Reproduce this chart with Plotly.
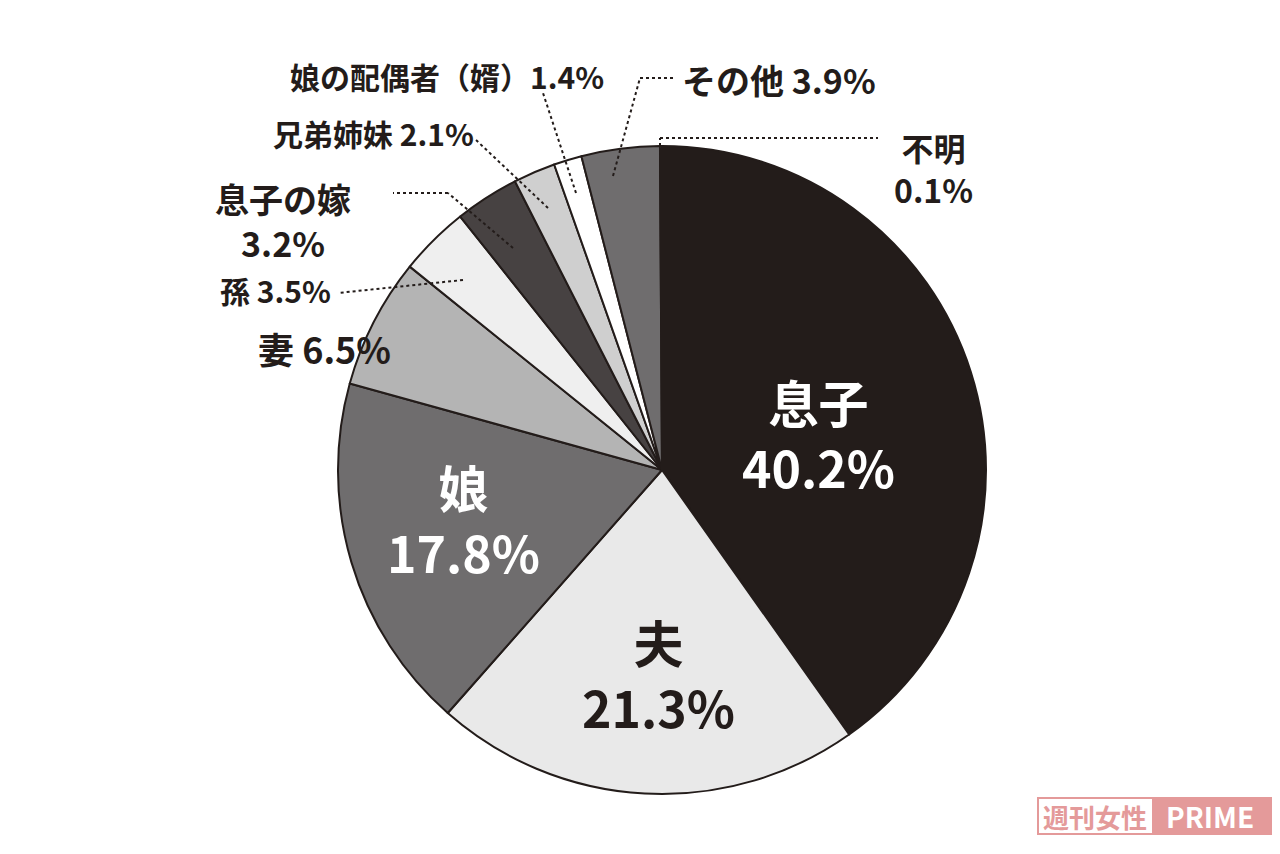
import plotly.graph_objects as go

labels = ["息子", "夫", "娘", "妻", "孫", "息子の嫁", "兄弟姉妹", "娘の配偶者（婿）", "その他", "不明"]
values = [40.2, 21.3, 17.8, 6.5, 3.5, 3.2, 2.1, 1.4, 3.9, 0.1]
colors = ["#231c1a", "#e9e9e9", "#6f6d6e", "#b4b4b4", "#efefef", "#474242", "#cfcfcf", "#ffffff", "#6f6d6e", "#ffffff"]

W, H = 1280, 854
def px(x, y):
    return x / W, 1 - y / H

cx, cy, r = 654, 462, 324
fig = go.Figure(go.Pie(
    labels=labels, values=values, sort=False, direction="clockwise", rotation=0,
    marker=dict(colors=colors, line=dict(color="#231c1a", width=2)),
    textinfo="none", hoverinfo="label+percent", showlegend=False,
    domain=dict(x=[(cx - r) / W, (cx + r) / W], y=[1 - (cy + r) / H, 1 - (cy - r) / H]),
))

FONT = "Noto Sans CJK JP"
ann = []
def txt(x, y, t, size, color="#231c1a", xanchor="center"):
    X, Y = px(x, y)
    ann.append(dict(x=X, y=Y, xref="paper", yref="paper", text=t, showarrow=False,
                    font=dict(family=FONT, size=size, color=color), align="center",
                    xanchor=xanchor, yanchor="middle"))

txt(810, 425, f"<b>{labels[0]}<br>{values[0]}%</b>", 50, "white")
txt(650, 665, f"<b>{labels[1]}<br>{values[1]}%</b>", 50)
txt(455, 510, f"<b>{labels[2]}<br>{values[2]}%</b>", 50, "white")
txt(385, 340, f"<b>{labels[3]} {values[3]}%</b>", 36, xanchor="right")
txt(325, 282, f"<b>{labels[4]} {values[4]}%</b>", 30, xanchor="right")
txt(275, 212, f"<b>{labels[5]}<br>{values[5]}%</b>", 34)
txt(468, 125, f"<b>{labels[6]} {values[6]}%</b>", 30, xanchor="right")
txt(598, 68, f"<b>{labels[7]}{values[7]}%</b>", 30, xanchor="right")
txt(672, 72, f"<b>{labels[8]} {values[8]}%</b>", 34, xanchor="left")
txt(925, 160, f"<b>{labels[9]}<br>{values[9]}%</b>", 32)

# watermark
txt(1087, 808, "<b>週刊女性</b>", 26, "#e49a9a")
txt(1202, 808, "<b>PRIME</b>", 28, "white")
shapes = []
for (a, b, fill) in [((1030, 790), (1145, 826), "rgba(0,0,0,0)"), ((1145, 790), (1263, 826), "#e49a9a")]:
    xa, ya = px(*a); xb, yb = px(*b)
    shapes.append(dict(type="rect", xref="paper", yref="paper", x0=xa, y0=ya, x1=xb, y1=yb,
                       line=dict(color="#e49a9a", width=2), fillcolor=fill, layer="below"))

paths = [
    [(652, 150), (652, 130), (870, 130)],
    [(605, 168), (632, 70), (668, 70)],
    [(568, 185), (535, 85)],
    [(540, 200), (468, 132)],
    [(505, 240), (440, 185), (385, 185)],
    [(455, 272), (330, 285)],
]
for p in paths:
    for a, b in zip(p[:-1], p[1:]):
        xa, ya = px(*a); xb, yb = px(*b)
        shapes.append(dict(type="line", xref="paper", yref="paper", x0=xa, y0=ya, x1=xb, y1=yb,
                           line=dict(color="#231c1a", width=2, dash="dot")))

fig.update_layout(width=W, height=H, margin=dict(l=0, r=0, t=0, b=0),
                  paper_bgcolor="white", plot_bgcolor="white", annotations=ann, shapes=shapes)
fig.write_html("out.html")
